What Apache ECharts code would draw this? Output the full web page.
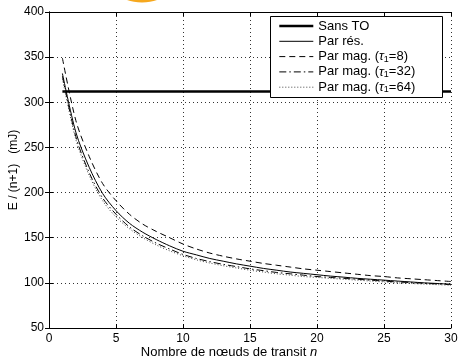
<!DOCTYPE html>
<html>
<head>
<meta charset="utf-8">
<script src="https://cdn.jsdelivr.net/npm/echarts@6/dist/echarts.min.js"></script>
<style>html,body{margin:0;padding:0;background:#fff}#c{width:460px;height:359px}</style>
</head>
<body>
<div id="c"></div>
<script>
// ---- data ----
const nodes = [1,2,3,4,5,6,7,8,9,10,11,12,13,14,15,16,17,18,19,20,21,22,23,24,25,26,27,28,29,30];
const sansTOn = [1, 30];
const sansTO = [312, 312];
const parRes = [332,267,228,199,180,166,156,148,141,135,131,127,124,121,118.5,116,114,112,110.5,109,107.5,106.3,105,104,103,102,101,100,99.3,98.5];
const parMag8 = [349,280,240,210,191,176,165,157,150,143,137.5,133,129.5,126.5,124,121.5,119.5,117.5,115.5,114,112.5,111,109.5,108,107,105.5,104.5,103.5,102.5,101.5];
const parMag32 = [329,262,222,194,176,162,152,144,137.5,131.5,127,123.5,120.5,118,115.5,113.5,111.5,110,108.5,107,106,105,104,103,102,101,100.3,99.5,98.8,98];
const parMag64 = [326,259,219,191,173,160,150,142,135.5,130,125.5,122,119,116.5,114,112,110,108.5,107,106,105,104,103,102,101,100,99.3,98.6,98,97.4];
const xTicks = {min: 0, max: 30, interval: 5};
const yTicks = {min: 50, max: 400, interval: 50};
const names = ['Sans TO', 'Par rés.', 'Par mag. (τ1=8)', 'Par mag. (τ1=32)', 'Par mag. (τ1=64)'];
const legendRich = {
  'Sans TO': 'Sans TO',
  'Par rés.': 'Par rés.',
  'Par mag. (τ1=8)': 'Par mag. ({t|τ}{s|1}=8)',
  'Par mag. (τ1=32)': 'Par mag. ({t|τ}{s|1}=32)',
  'Par mag. (τ1=64)': 'Par mag. ({t|τ}{s|1}=64)'
};

const zip = (xs, ys) => xs.map((x, i) => [x, ys[i]]);
const FONT = '"Liberation Sans", Arial, Helvetica, sans-serif';

const styles = [
  {color: '#000', width: 2.6, type: 'solid'},
  {color: '#000', width: 1, type: 'solid'},
  {color: '#000', width: 1, type: [6, 4]},
  {color: '#000', width: 1, type: [7, 3, 1.5, 3]},
  {color: '#444', width: 1, type: [1, 2]}
];

const chart = echarts.init(document.getElementById('c'), null, {renderer: 'canvas'});
const axisCommon = {
  axisLine: {show: true, lineStyle: {color: '#000', width: 1}},
  axisTick: {show: true, inside: true, length: 4, lineStyle: {color: '#000'}},
};
const seriesData = [zip(sansTOn, sansTO), zip(nodes, parRes), zip(nodes, parMag8), zip(nodes, parMag32), zip(nodes, parMag64)];
chart.setOption({
  animation: false,
  backgroundColor: '#fff',
  grid: {left: 49, right: 9, top: 12, bottom: 31, outerBoundsMode: 'none', containLabel: false},
  xAxis: [
    Object.assign({
      type: 'value', min: xTicks.min, max: xTicks.max, interval: xTicks.interval,
      position: 'bottom',
      axisLabel: {color: '#000', fontFamily: FONT, fontSize: 12, margin: 5},
      splitLine: {show: true, lineStyle: {color: '#333', width: 1, type: [1, 3]}},
      name: 'Nombre de nœuds de transit {i|n}',
      nameLocation: 'middle', nameGap: 18, nameMoveOverlap: false,
      nameTextStyle: {color: '#000', fontFamily: FONT, fontSize: 13, lineHeight: 13, padding: [0, 42, 0, 0],
        rich: {i: {fontStyle: 'italic', fontFamily: FONT, fontSize: 13, lineHeight: 13, color: '#000'}}}
    }, axisCommon),
    Object.assign({
      type: 'value', min: xTicks.min, max: xTicks.max, interval: xTicks.interval,
      position: 'top', axisLabel: {show: false}, splitLine: {show: false}
    }, axisCommon)
  ],
  yAxis: [
    Object.assign({
      type: 'value', min: yTicks.min, max: yTicks.max, interval: yTicks.interval,
      position: 'left',
      axisLabel: {color: '#000', fontFamily: FONT, fontSize: 12, margin: 5},
      splitLine: {show: true, lineStyle: {color: '#333', width: 1, type: [1, 3]}},
      name: 'E / (n+1)   (mJ)',
      nameLocation: 'middle', nameGap: 29, nameMoveOverlap: false,
      nameTextStyle: {color: '#000', fontFamily: FONT, fontSize: 12}
    }, axisCommon),
    Object.assign({
      type: 'value', min: yTicks.min, max: yTicks.max, interval: yTicks.interval,
      position: 'right', axisLabel: {show: false}, splitLine: {show: false}
    }, axisCommon)
  ],
  legend: {
    orient: 'vertical', left: 278, top: 19, padding: 0,
    itemWidth: 34, itemHeight: 14, itemGap: 1.3, itemTextGap: 7,
    z: 6,
    data: names.map((n, i) => ({name: n, itemStyle: {opacity: 0, borderWidth: 0},
      lineStyle: {color: styles[i].color, width: styles[i].width, type: styles[i].type}})),
    itemStyle: {opacity: 0, borderWidth: 0},
    formatter: n => legendRich[n],
    textStyle: {color: '#000', fontFamily: FONT, fontSize: 13, lineHeight: 14,
      rich: {
        t: {fontFamily: FONT, fontSize: 13, fontStyle: 'italic', color: '#000', lineHeight: 14},
        s: {fontFamily: FONT, fontSize: 9, color: '#000', lineHeight: 5, verticalAlign: 'bottom'}
      }}
  },
  graphic: [
    {type: 'ellipse', silent: true, z: 10, shape: {cx: 142, cy: -10, rx: 25, ry: 12.5},
      style: {fill: '#f6a81e'}},
    {type: 'rect', silent: true, z: 5, shape: {x: 270.5, y: 16.5, width: 172, height: 81},
      style: {fill: '#fff', stroke: '#000', lineWidth: 1}}
  ],
  series: names.map((n, i) => ({
    name: n, type: 'line', data: seriesData[i], symbol: 'none', smooth: i === 0 ? false : 0.3,
    lineStyle: {color: styles[i].color, width: styles[i].width, type: styles[i].type},
    itemStyle: {color: styles[i].color}
  }))
});
</script>
</body>
</html>
